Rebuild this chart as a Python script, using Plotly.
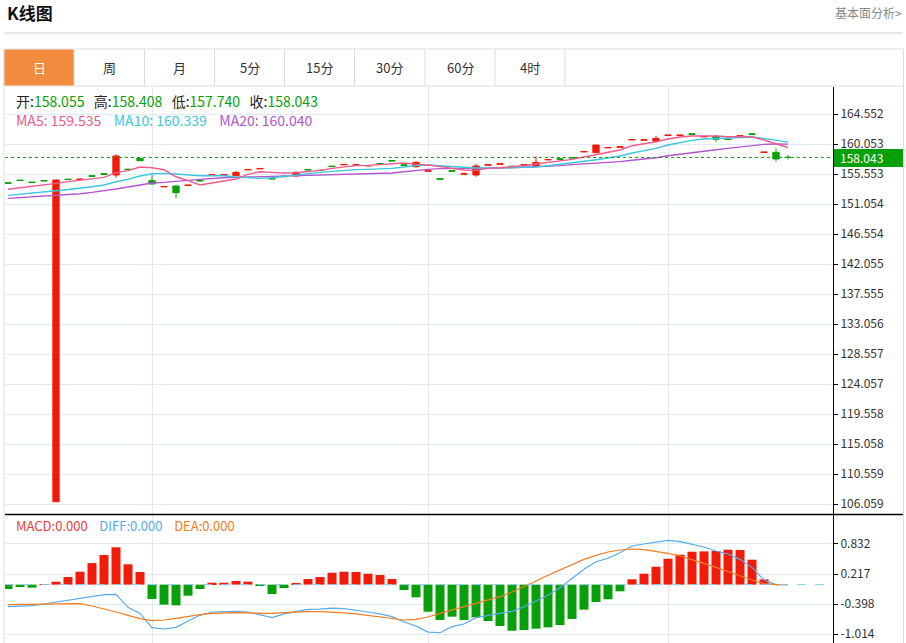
import plotly.graph_objects as go

# ---------------- data ----------------
opens = [154.23, 154.64, 154.35, 154.59, 106.44, 154.79, 154.73, 155.29, 155.59, 155.41,
         156.29, 157.90, 154.56, 153.63, 153.76, 153.83, 154.59, 155.38, 155.38, 155.31,
         156.18, 156.33, 154.89, 155.23, 155.26, 156.24, 156.14, 156.74, 156.93, 156.87,
         156.77, 157.13, 157.58, 156.93, 156.66, 155.98, 154.84, 156.04, 155.53, 155.41,
         156.88, 157.03, 156.73, 156.88, 156.71, 157.67, 157.84, 158.03, 158.87, 158.75,
         159.47, 159.57, 160.67, 160.63, 160.50, 161.33, 161.33, 161.58, 161.12, 161.20,
         160.79, 161.22, 161.58, 158.78, 158.81, 158.055]
closes = [154.17, 154.58, 154.29, 154.53, 154.66, 154.73, 154.79, 155.23, 155.53, 158.26,
          156.23, 157.55, 154.06, 153.69, 152.76, 153.89, 154.53, 155.44, 155.44, 155.81,
          156.24, 156.39, 154.83, 155.17, 155.76, 156.18, 156.08, 156.68, 156.99, 156.93,
          156.83, 157.07, 157.52, 156.87, 157.31, 156.04, 154.78, 155.98, 155.59, 156.76,
          156.94, 157.09, 156.67, 156.94, 157.31, 157.73, 157.78, 157.97, 158.93, 159.90,
          159.53, 159.63, 160.73, 160.69, 160.90, 161.39, 161.39, 161.52, 161.18, 160.76,
          160.73, 161.28, 161.52, 158.84, 157.81, 158.043]
highs = [154.23, 154.64, 154.35, 154.59, 154.70, 154.79, 154.79, 155.29, 155.59, 158.51,
         156.29, 157.95, 155.41, 153.69, 153.80, 153.89, 154.59, 155.44, 155.44, 156.01,
         156.24, 156.39, 154.89, 155.23, 156.00, 156.24, 156.14, 156.74, 156.99, 157.10,
         156.83, 157.13, 157.58, 156.93, 157.45, 156.04, 154.84, 156.04, 155.80, 157.06,
         156.94, 157.09, 156.73, 156.94, 158.26, 157.73, 157.84, 158.03, 158.93, 159.95,
         159.53, 159.63, 160.73, 160.69, 161.25, 161.39, 161.39, 161.58, 161.18, 161.40,
         160.79, 161.28, 161.58, 158.84, 159.40, 158.408]
lows = [154.17, 154.58, 154.29, 154.53, 106.44, 154.73, 154.73, 155.23, 155.53, 155.00,
        156.23, 157.50, 154.00, 153.63, 151.92, 153.83, 154.53, 155.38, 155.38, 155.31,
        156.18, 156.33, 154.83, 155.17, 155.20, 156.18, 156.08, 156.68, 156.93, 156.87,
        156.77, 157.07, 157.52, 156.87, 156.50, 155.98, 154.78, 155.98, 155.53, 155.15,
        156.88, 157.03, 156.67, 156.88, 156.71, 157.67, 157.78, 157.97, 158.87, 158.70,
        159.47, 159.57, 160.67, 160.63, 160.30, 161.33, 161.33, 161.52, 161.12, 160.35,
        160.73, 161.22, 161.52, 158.78, 157.40, 157.740]

ma5 = [153.27, 153.47, 153.66, 153.91, 154.16, 154.41, 154.66, 154.86, 155.06, 155.76,
       156.06, 156.61, 156.50, 156.20, 155.15, 154.56, 153.91, 154.21, 154.51, 154.81,
       155.51, 155.90, 155.80, 155.70, 155.75, 155.90, 156.10, 156.41, 156.66, 156.81,
       156.86, 157.00, 157.16, 157.20, 157.00, 156.91, 156.66, 156.41, 156.16, 156.10,
       156.41, 156.50, 156.60, 156.80, 157.06, 157.30, 157.50, 157.76, 158.10, 158.45,
       158.80, 159.16, 159.80, 160.06, 160.40, 160.80, 161.10, 161.25, 161.30, 161.25,
       161.15, 161.20, 161.15, 160.65, 160.15, 159.535]
ma10 = [152.36, 152.51, 152.66, 152.86, 153.06, 153.23, 153.41, 153.66, 153.91, 154.40,
        154.76, 155.26, 155.60, 155.66, 155.56, 155.41, 155.30, 155.30, 155.30, 155.11,
        155.00, 154.91, 155.00, 155.20, 155.51, 155.66, 155.80, 155.96, 156.10, 156.21,
        156.26, 156.31, 156.41, 156.60, 156.81, 156.90, 156.80, 156.61, 156.50, 156.46,
        156.46, 156.50, 156.50, 156.56, 156.61, 156.80, 157.01, 157.20, 157.51, 157.70,
        157.96, 158.26, 158.70, 159.00, 159.40, 159.90, 160.30, 160.60, 160.80, 160.90,
        161.00, 161.10, 161.10, 160.90, 160.65, 160.339]
ma20 = [151.90, 152.00, 152.10, 152.26, 152.41, 152.51, 152.61, 152.81, 153.01, 153.31,
        153.61, 153.91, 154.21, 154.31, 154.51, 154.61, 154.76, 154.91, 155.00, 155.06,
        155.11, 155.15, 155.20, 155.26, 155.30, 155.36, 155.41, 155.46, 155.51, 155.56,
        155.56, 155.60, 155.70, 155.90, 156.10, 156.26, 156.36, 156.36, 156.36, 156.36,
        156.41, 156.46, 156.50, 156.56, 156.61, 156.71, 156.81, 156.96, 157.06, 157.16,
        157.26, 157.41, 157.61, 157.76, 158.00, 158.30, 158.55, 158.80, 159.00, 159.20,
        159.40, 159.60, 159.80, 160.00, 160.05, 160.040]

macd_hist = [-0.090, -0.050, -0.063, 0.005, 0.060, 0.155, 0.264, 0.440, 0.605, 0.763,
             0.415, 0.258, -0.294, -0.410, -0.424, -0.227, -0.090, 0.039, 0.039, 0.074,
             0.060, -0.029, -0.192, -0.070, 0.026, 0.114, 0.155, 0.244, 0.264, 0.258,
             0.223, 0.196, 0.114, -0.110, -0.260, -0.554, -0.724, -0.656, -0.724, -0.669,
             -0.744, -0.847, -0.942, -0.928, -0.901, -0.874, -0.826, -0.703, -0.513, -0.356,
             -0.301, -0.137, 0.108, 0.223, 0.366, 0.530, 0.612, 0.673, 0.680, 0.687,
             0.714, 0.707, 0.509, 0.108, 0.000, 0.000]
diff = [-0.452, -0.440, -0.430, -0.397, -0.356, -0.330, -0.288, -0.240, -0.206, -0.200,
        -0.465, -0.588, -0.880, -0.908, -0.874, -0.744, -0.628, -0.560, -0.547, -0.547,
        -0.560, -0.615, -0.676, -0.600, -0.547, -0.506, -0.500, -0.480, -0.493, -0.520,
        -0.560, -0.600, -0.656, -0.765, -0.847, -0.970, -0.983, -0.860, -0.806, -0.676,
        -0.628, -0.594, -0.547, -0.452, -0.329, -0.219, -0.063, 0.121, 0.313, 0.468,
        0.538, 0.652, 0.789, 0.830, 0.871, 0.905, 0.878, 0.830, 0.769, 0.687,
        0.626, 0.517, 0.353, 0.094, 0.000, 0.000]
dea = [-0.410, -0.405, -0.400, -0.395, -0.390, -0.390, -0.390, -0.438, -0.492, -0.560,
       -0.628, -0.697, -0.738, -0.724, -0.690, -0.650, -0.615, -0.588, -0.574, -0.574,
       -0.580, -0.588, -0.588, -0.574, -0.560, -0.554, -0.554, -0.560, -0.580, -0.600,
       -0.628, -0.656, -0.690, -0.724, -0.710, -0.663, -0.588, -0.520, -0.465, -0.397,
       -0.329, -0.247, -0.151, -0.043, 0.074, 0.190, 0.299, 0.415, 0.517, 0.599,
       0.667, 0.708, 0.728, 0.714, 0.680, 0.640, 0.585, 0.517, 0.435, 0.353,
       0.272, 0.182, 0.094, 0.020, 0.000, 0.000]

price_ticks = [164.552, 160.053, 155.553, 151.054, 146.554, 142.055, 137.555,
               133.056, 128.557, 124.057, 119.558, 115.058, 110.559, 106.059]
macd_ticks = [0.832, 0.217, -0.398, -1.014]
month_starts = [12, 35, 55]
tabs = ["日", "周", "月", "5分", "15分", "30分", "60分", "4时"]
last_price = 158.043

# ---------------- style ----------------
W, H = 906, 643
RED = "#f21a08"
GREEN = "#08a008"
GRID = "#e2eaf1"
C_MA5 = "#ef5b8c"
C_MA10 = "#3cc6e0"
C_MA20 = "#b455cc"
C_DIFF = "#56aaf0"
C_DEA = "#f47c22"
FONT = "Noto Sans CJK SC"


def px(x):
    return x / W


def py(y):
    return 1 - y / H


x_idx = list(range(len(closes)))

fig = go.Figure()

fig.add_trace(go.Candlestick(
    x=x_idx, open=opens, high=highs, low=lows, close=closes,
    xaxis="x", yaxis="y",
    increasing=dict(line=dict(color=RED, width=1), fillcolor=RED),
    decreasing=dict(line=dict(color=GREEN, width=1), fillcolor=GREEN),
    whiskerwidth=0, showlegend=False, hoverinfo="skip"))

for vals, col in [(ma20, C_MA20), (ma10, C_MA10), (ma5, C_MA5)]:
    fig.add_trace(go.Scatter(x=x_idx, y=vals, mode="lines", xaxis="x", yaxis="y",
                             line=dict(color=col, width=1.4), showlegend=False,
                             hoverinfo="skip"))

fig.add_trace(go.Bar(
    x=x_idx, y=macd_hist, xaxis="x2", yaxis="y2",
    marker=dict(color=[RED if v >= 0 else GREEN for v in macd_hist], line=dict(width=0)),
    width=0.75, showlegend=False, hoverinfo="skip"))
fig.add_trace(go.Scatter(x=x_idx, y=diff, mode="lines", xaxis="x2", yaxis="y2",
                         line=dict(color=C_DIFF, width=1.2), showlegend=False, hoverinfo="skip"))
fig.add_trace(go.Scatter(x=x_idx, y=dea, mode="lines", xaxis="x2", yaxis="y2",
                         line=dict(color=C_DEA, width=1.2), showlegend=False, hoverinfo="skip"))

xr = [-0.25, 68.75]
dom_x = [px(5), px(833)]
xa = dict(domain=dom_x, range=xr, tickvals=month_starts, showticklabels=False,
          showgrid=True, gridcolor=GRID, gridwidth=1, zeroline=False, ticks="",
          rangeslider=dict(visible=False), fixedrange=True)

fig.update_layout(
    width=W, height=H, margin=dict(l=0, r=0, t=0, b=0),
    paper_bgcolor="white", plot_bgcolor="white",
    font=dict(family=FONT, size=12, color="#333333"),
    boxgap=0.25,
    bargap=0.25,
    xaxis=dict(xa, anchor="y"),
    xaxis2=dict(xa, anchor="y2"),
    yaxis=dict(domain=[py(514), py(87)], range=[104.60, 168.60], side="right",
               tickvals=price_ticks, ticktext=[f"{v:.3f}" for v in price_ticks],
               ticks="outside", ticklen=4, tickcolor="#000", showline=True,
               linecolor="#000", linewidth=1, showgrid=True, gridcolor=GRID,
               zeroline=False, anchor="x", fixedrange=True,
               tickfont=dict(family=FONT, size=12, color="#333333")),
    yaxis2=dict(domain=[0, py(514)], range=[-1.194, 1.444], side="right",
                tickvals=macd_ticks, ticktext=[f"{v:.3f}" for v in macd_ticks],
                ticks="outside", ticklen=4, tickcolor="#000", showline=True,
                linecolor="#000", linewidth=1, showgrid=True, gridcolor=GRID,
                zeroline=False, anchor="x2", fixedrange=True,
                tickfont=dict(family=FONT, size=12, color="#333333")),
)

shapes = []
shapes.append(dict(type="line", xref="paper", yref="paper", x0=px(4), x1=px(903),
                   y0=py(33), y1=py(33), line=dict(color="#cccccc", width=1)))
shapes.append(dict(type="line", xref="paper", yref="paper", x0=px(4), x1=px(4),
                   y0=py(49), y1=0, line=dict(color="#dddddd", width=1)))
shapes.append(dict(type="line", xref="paper", yref="paper", x0=px(903.5), x1=px(903.5),
                   y0=py(49), y1=0, line=dict(color="#dddddd", width=1)))
shapes.append(dict(type="rect", xref="paper", yref="paper", x0=px(4), x1=px(903.5),
                   y0=py(86), y1=py(49), line=dict(color="#dddddd", width=1)))
tab_edges = [4, 74, 144.5, 214.5, 284.5, 354.5, 425, 495, 565]
shapes.append(dict(type="rect", xref="paper", yref="paper", x0=px(4.5), x1=px(74),
                   y0=py(85.5), y1=py(49.5), fillcolor="#f28b3d", line=dict(width=0)))
for e in tab_edges[1:]:
    shapes.append(dict(type="line", xref="paper", yref="paper", x0=px(e), x1=px(e),
                       y0=py(86), y1=py(49), line=dict(color="#dddddd", width=1)))
shapes.append(dict(type="line", xref="paper", yref="paper", x0=px(5), x1=px(903),
                   y0=py(514.5), y1=py(514.5), line=dict(color="#000000", width=1.5)))
shapes.append(dict(type="line", xref="x", yref="y", x0=xr[0], x1=xr[1],
                   y0=last_price, y1=last_price, line=dict(color=GREEN, width=1, dash="dot")))
shapes.append(dict(type="line", xref="x2", yref="y2", x0=xr[0], x1=xr[1],
                   y0=0, y1=0, line=dict(color="#8ccbee", width=1, dash="dash")))
shapes.append(dict(type="rect", xref="paper", yref="paper", x0=px(834), x1=px(903),
                   y0=py(167), y1=py(149), fillcolor=GREEN, line=dict(width=0)))

ann = []
ann.append(dict(x=px(5), y=py(13), xref="paper", yref="paper", xanchor="left",
                yanchor="middle", showarrow=False, text="<b>K线图</b>",
                font=dict(family=FONT, size=17, color="#111111")))
ann.append(dict(x=px(904), y=py(12), xref="paper", yref="paper", xanchor="right",
                yanchor="middle", showarrow=False, text="基本面分析>",
                font=dict(family=FONT, size=12, color="#888888")))
for k, lab in enumerate(tabs):
    cx = (tab_edges[k] + tab_edges[k + 1]) / 2
    ann.append(dict(x=px(cx), y=py(67.5), xref="paper", yref="paper", xanchor="center",
                    yanchor="middle", showarrow=False, text=lab,
                    font=dict(family=FONT, size=13, color="white" if k == 0 else "#333333")))

g = GREEN


def sp(c, t):
    return f"<span style='color:{c}'>{t}</span>"


gap3 = "&nbsp;" * 3
gap4 = "&nbsp;" * 4
info1 = ("开:" + sp(g, f"{opens[-1]:.3f}") + gap3 + "高:" + sp(g, f"{highs[-1]:.3f}")
         + gap3 + "低:" + sp(g, f"{lows[-1]:.3f}") + gap3 + "收:"
         + sp(g, f"{closes[-1]:.3f}"))
ann.append(dict(x=px(14), y=py(101), xref="paper", yref="paper", xanchor="left",
                yanchor="middle", showarrow=False, text=info1,
                font=dict(family=FONT, size=14, color="#222222")))
info2 = (sp(C_MA5, f"MA5: {ma5[-1]:.3f}") + gap4 + sp(C_MA10, f"MA10: {ma10[-1]:.3f}")
         + gap4 + sp(C_MA20, f"MA20: {ma20[-1]:.3f}"))
ann.append(dict(x=px(14), y=py(120), xref="paper", yref="paper", xanchor="left",
                yanchor="middle", showarrow=False, text=info2,
                font=dict(family=FONT, size=14)))
info3 = (sp("#ef3b3b", f"MACD:{macd_hist[-1]:.3f}") + gap4
         + sp(C_DIFF, f"DIFF:{diff[-1]:.3f}") + gap4
         + sp(C_DEA, f"DEA:{dea[-1]:.3f}"))
ann.append(dict(x=px(14), y=py(525), xref="paper", yref="paper", xanchor="left",
                yanchor="middle", showarrow=False, text=info3,
                font=dict(family=FONT, size=13)))
ann.append(dict(x=px(838), y=py(158), xref="paper", yref="paper", xanchor="left",
                yanchor="middle", showarrow=False, text=f"{last_price:.3f}",
                font=dict(family=FONT, size=12, color="white")))

fig.update_layout(shapes=shapes, annotations=ann)
fig.write_html("out.html",
               config={"displayModeBar": False},
               post_script="document.body.style.margin='0';"
                           "document.body.style.overflow='hidden';")
